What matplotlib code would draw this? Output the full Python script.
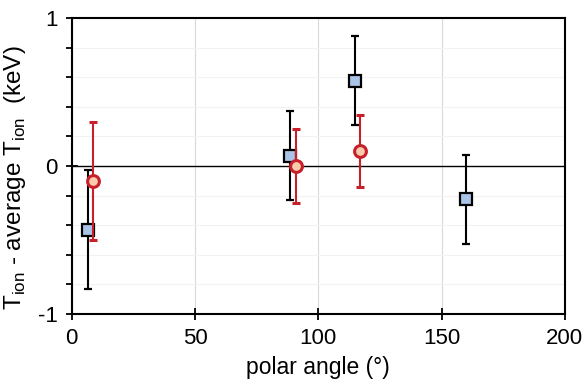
import numpy as np
import matplotlib.pyplot as plt
from matplotlib.ticker import MultipleLocator

plt.rcParams['font.family'] = ['Liberation Sans', 'DejaVu Sans']
plt.rcParams['axes.unicode_minus'] = False

# series 1: squares (black error bars)
sq_angle = [6.5, 88.5, 115.0, 160.0]
sq_dT = [-0.43, 0.07, 0.575, -0.225]
sq_err = [0.40, 0.30, 0.30, 0.30]

# series 2: circles (red error bars)
ci_angle = [8.5, 91.0, 117.0]
ci_dT = [-0.10, 0.0, 0.10]
ci_err = [0.40, 0.25, 0.245]

fig, ax = plt.subplots(figsize=(5.83, 3.82), dpi=100)
fig.subplots_adjust(left=0.123, right=0.969, top=0.953, bottom=0.178)

ax.axhline(0, color='black', linewidth=1.0, zorder=1)

ax.errorbar(sq_angle, sq_dT, yerr=sq_err, fmt='s', ms=8, mfc='#a9c4e6', mec='black',
            mew=1.6, ecolor='black', elinewidth=1.5, capsize=3, capthick=1.5, zorder=3)
ax.errorbar(ci_angle, ci_dT, yerr=ci_err, fmt='o', ms=8.5, mfc='#f8cbad', mec='#c8202a',
            mew=2.2, ecolor='#c8202a', elinewidth=1.5, capsize=3, capthick=1.5, zorder=4)

ax.set_xlim(0, 200)
ax.set_ylim(-1, 1)
ax.xaxis.set_major_locator(MultipleLocator(50))
ax.yaxis.set_major_locator(MultipleLocator(1))
ax.yaxis.set_minor_locator(MultipleLocator(0.2))

ax.grid(True, axis='x', which='major', color='#d9d9d9', linewidth=0.8)
ax.grid(True, axis='y', which='minor', color='#f2f2f2', linewidth=0.8)
ax.set_axisbelow(True)

for s in ax.spines.values():
    s.set_linewidth(1.5)

ax.tick_params(axis='both', which='major', direction='inout', length=8, width=1.3,
               labelsize=16, pad=6)
ax.tick_params(axis='y', which='minor', direction='out', length=4, width=1.3)

ax.set_xlabel('polar angle (°)', fontsize=16.5, labelpad=5)
ax.set_ylabel('T$_{\\mathregular{ion}}$ - average T$_{\\mathregular{ion}}$  (keV)', fontsize=17.5)
ax.yaxis.set_label_coords(-0.088, 0.46)

fig.savefig('out.png', dpi=100)
